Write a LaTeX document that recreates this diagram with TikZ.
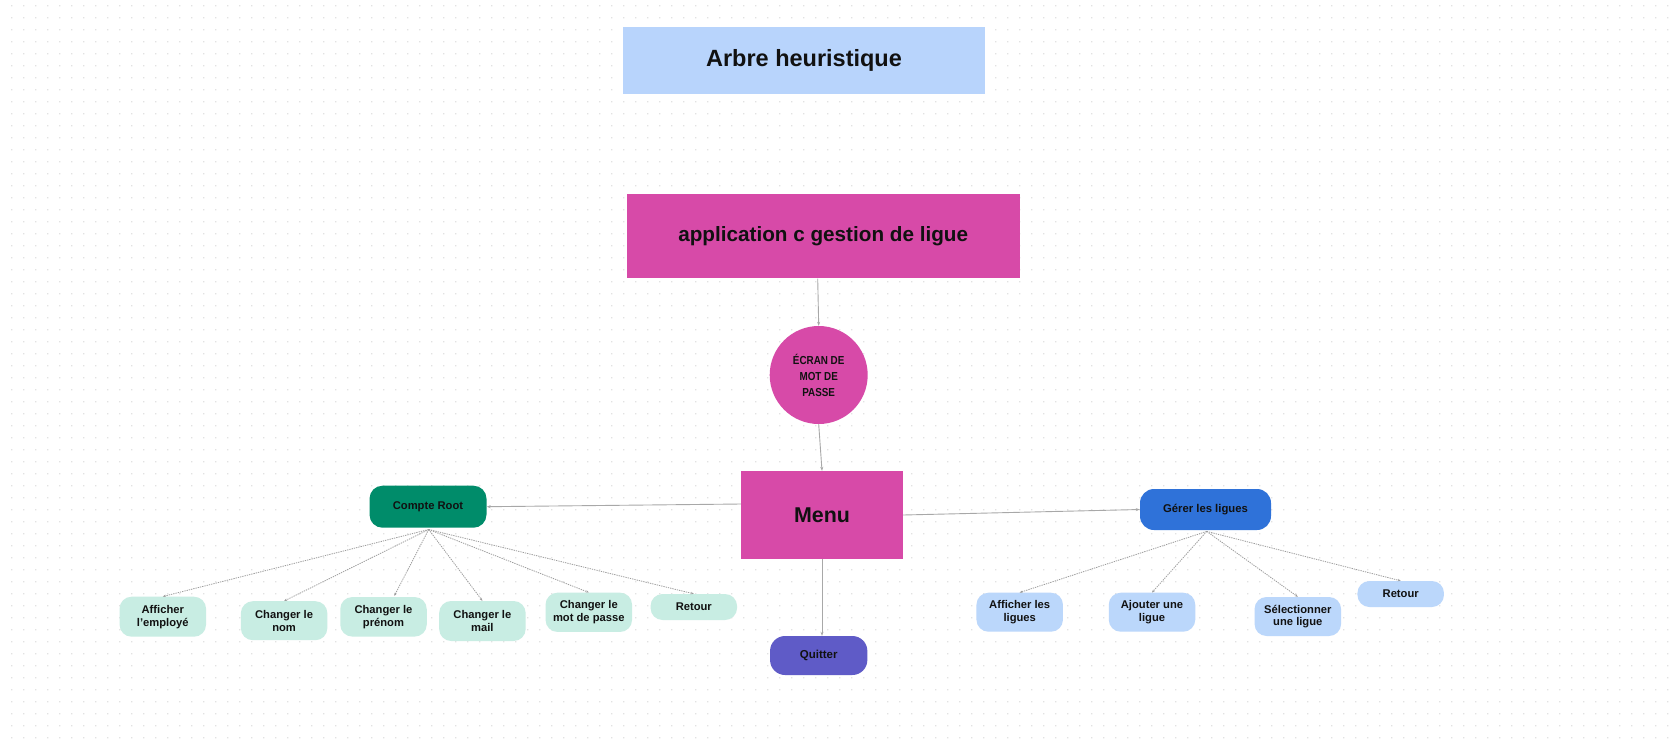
\documentclass[tikz,border=0pt]{standalone}
\usepackage{fontspec}
\setmainfont{Liberation Sans}
\newfontfamily\condf{Liberation Sans}[FakeStretch=0.85]
\usetikzlibrary{arrows.meta,calc}
\definecolor{titleblue}{HTML}{B8D4FC}
\definecolor{magenta}{HTML}{D74AA8}
\definecolor{rootgreen}{HTML}{008C6A}
\definecolor{gerblue}{HTML}{2F72D9}
\definecolor{quitpurple}{HTML}{5F5BC7}
\definecolor{mint}{HTML}{C8EDE3}
\definecolor{lightblue}{HTML}{BBD7FB}
\definecolor{linegray}{HTML}{A8A8A8}
\definecolor{dotline}{HTML}{9C9C9C}
\definecolor{dotgray}{HTML}{E2E2E2}
\definecolor{ink}{HTML}{111111}
\begin{document}
\begin{tikzpicture}[x=1pt,y=-1pt,
  base/.style={inner sep=0pt,align=center,text=ink,font=\bfseries},
  bigbox/.style={base,rectangle},
  kid/.style={base,rounded corners=12pt,minimum width=86.5pt,
    font=\bfseries\fontsize{11.2}{12.8}\selectfont},
  leftkid/.style={kid,fill=mint},
  rightkid/.style={kid,fill=lightblue},
  solidarrow/.style={draw=linegray,line width=0.9pt,-{Stealth[length=4pt,width=3pt]}},
  dotarrow/.style={draw=dotline,line width=0.8pt,dash pattern=on 1.3pt off 1pt,
    -{Stealth[length=3pt,width=2.4pt]}}]
\fill[white] (0,0) rectangle (1678,745);
\useasboundingbox (0,0) rectangle (1678,745);
\foreach \j in {0,...,61}{
  \fill[dotgray] \foreach \i in {0,...,139}{(\i*12+11,\j*12+5) rectangle ++(1.4,1.4)};
}
% main boxes
\node[bigbox,fill=titleblue,minimum width=362.6pt,minimum height=66.4pt,
  font=\bfseries\fontsize{23.5}{28}\selectfont] (title) at (804,60.5) {Arbre heuristique};
\node[bigbox,fill=magenta,minimum width=393pt,minimum height=84.3pt,
  font=\bfseries\fontsize{20.7}{25}\selectfont] (app) at (823.2,236.2) {application c gestion de ligue};
\node[base,circle,fill=magenta,minimum size=98pt,
  font=\condf\bfseries\fontsize{11.6}{16}\selectfont] (ecran) at (818.7,375) {ÉCRAN DE\\MOT DE\\PASSE};
\node[bigbox,fill=magenta,minimum width=161.7pt,minimum height=88pt,
  font=\bfseries\fontsize{21.4}{25}\selectfont] (menu) at (822,515) {Menu};
\node[base,fill=quitpurple,rounded corners=15pt,minimum width=97.3pt,minimum height=39pt,
  font=\bfseries\fontsize{11.5}{13}\selectfont] (quit) at (818.7,655.5) {Quitter};
\node[base,fill=rootgreen,rounded corners=13pt,minimum width=117pt,minimum height=42pt,
  font=\bfseries\fontsize{11.2}{13}\selectfont] (root) at (428,506.7) {Compte Root};
\node[base,fill=gerblue,rounded corners=14pt,minimum width=131pt,minimum height=41pt,
  font=\bfseries\fontsize{11.3}{13}\selectfont] (ger) at (1205.5,509.5) {Gérer les ligues};
% left children
\node[leftkid,minimum height=40pt] (aff) at (162.8,616.7) {Afficher\\l'employé};
\node[leftkid,minimum height=39pt] (nom) at (284.1,620.7) {Changer le\\nom};
\node[leftkid,minimum height=39.5pt] (pre) at (383.5,616.8) {Changer le\\prénom};
\node[leftkid,minimum height=40pt] (mail) at (482.4,621) {Changer le\\mail};
\node[leftkid,minimum height=39.3pt] (mdp) at (588.8,612.3) {Changer le\\mot de passe};
\node[leftkid,minimum height=26pt] (retl) at (693.8,607) {Retour};
% right children
\node[rightkid,minimum height=39pt] (affl) at (1019.7,612.2) {Afficher les\\ligues};
\node[rightkid,minimum height=39pt] (ajl) at (1152,612.2) {Ajouter une\\ligue};
\node[rightkid,minimum height=39pt] (sel) at (1297.8,616.5) {Sélectionner\\une ligue};
\node[rightkid,minimum height=26pt] (retr) at (1400.7,594) {Retour};
% solid connectors
\draw[solidarrow] ($(app.south)+(-5.5,0)$) -- (ecran.north);
\draw[solidarrow] (ecran.south) -- (menu.north);
\draw[solidarrow] (menu.south) -- (menu.south |- quit.north);
\draw[solidarrow] ($(menu.west)+(0,-11)$) -- (root.east);
\draw[solidarrow] (menu.east) -- (ger.west);
% dotted connectors
\coordinate (rootfoot) at ($(root.south)+(0.7,1.6)$);
\draw[dotarrow] (rootfoot) -- (aff.north);
\draw[dotarrow] (rootfoot) -- (nom.north);
\draw[dotarrow] (rootfoot) -- ($(pre.north)+(10.8,-1)$);
\draw[dotarrow] (rootfoot) -- (mail.north);
\draw[dotarrow] (rootfoot) -- (mdp.north);
\draw[dotarrow] (rootfoot) -- (retl.north);
\coordinate (gerfoot) at ($(ger.south)+(1.2,1.2)$);
\foreach \k in {affl,ajl,sel,retr}
  \draw[dotarrow] (gerfoot) -- (\k.north);
\end{tikzpicture}
\end{document}
